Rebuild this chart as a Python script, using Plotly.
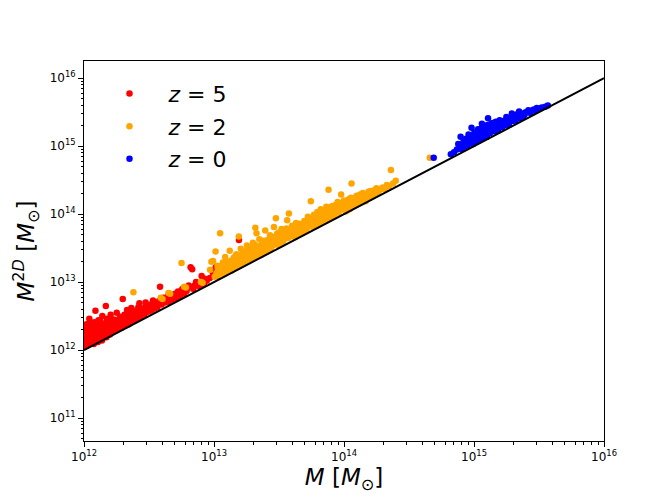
import plotly.graph_objects as go

# log10 masses: (log10 M, log10 M^2D)
red_points = [
    (12.003, 12.06), (12.006, 12.19), (12.011, 12.29), (12.014, 12.11), (12.019, 12.38),
    (12.022, 12.24), (12.027, 12.07), (12.031, 12.33), (12.034, 12.16), (12.041, 12.46),
    (12.044, 12.27), (12.049, 12.10), (12.053, 12.21), (12.058, 12.35), (12.062, 12.14),
    (12.066, 12.31), (12.071, 12.19), (12.075, 12.09), (12.079, 12.41), (12.084, 12.26),
    (12.088, 12.58), (12.091, 12.15), (12.096, 12.33), (12.102, 12.22), (12.107, 12.12),
    (12.111, 12.44), (12.116, 12.28), (12.121, 12.17), (12.127, 12.37), (12.133, 12.24),
    (12.138, 12.14), (12.141, 12.50), (12.146, 12.31), (12.152, 12.20), (12.157, 12.39),
    (12.163, 12.27), (12.168, 12.65), (12.172, 12.19), (12.176, 12.46), (12.183, 12.33),
    (12.188, 12.24), (12.194, 12.41), (12.199, 12.23), (12.205, 12.52), (12.211, 12.29),
    (12.216, 12.36), (12.222, 12.27), (12.229, 12.45), (12.233, 12.31), (12.241, 12.39),
    (12.246, 12.29), (12.252, 12.55), (12.258, 12.34), (12.263, 12.42), (12.269, 12.32),
    (12.276, 12.49), (12.281, 12.37), (12.288, 12.33), (12.293, 12.44), (12.298, 12.75),
    (12.305, 12.38), (12.311, 12.52), (12.318, 12.36), (12.324, 12.45), (12.331, 12.59),
    (12.337, 12.41), (12.344, 12.38), (12.351, 12.50), (12.357, 12.43), (12.364, 12.62),
    (12.372, 12.42), (12.379, 12.48), (12.386, 12.55), (12.393, 12.44), (12.401, 12.51),
    (12.409, 12.47), (12.418, 12.63), (12.426, 12.69), (12.433, 12.49), (12.441, 12.55),
    (12.449, 12.52), (12.458, 12.61), (12.466, 12.53), (12.474, 12.70), (12.483, 12.56),
    (12.492, 12.62), (12.501, 12.57), (12.511, 12.66), (12.520, 12.59), (12.531, 12.73),
    (12.542, 12.61), (12.553, 12.68), (12.564, 12.63), (12.576, 12.72), (12.585, 12.93),
    (12.597, 12.67), (12.609, 12.77), (12.622, 12.70), (12.636, 12.75), (12.649, 12.71),
    (12.663, 12.82), (12.678, 12.74), (12.692, 12.79), (12.707, 12.76), (12.723, 12.86),
    (12.739, 12.79), (12.756, 12.90), (12.772, 12.83), (12.789, 12.87), (12.806, 12.95),
    (12.820, 13.22), (12.832, 13.19), (12.841, 12.90), (12.862, 13.00), (12.883, 12.94),
    (12.905, 13.09), (12.921, 12.97), (12.944, 13.02), (12.968, 13.06), (12.991, 13.14),
    (13.008, 13.18), (13.021, 13.09), (13.013, 13.22), (13.079, 13.18), (13.192, 13.62),
    (13.248, 13.30),
    (12.016, 12.33), (12.037, 12.27), (12.048, 12.40), (12.069, 12.25), (12.082, 12.36),
    (12.099, 12.29), (12.113, 12.35), (12.124, 12.43), (12.136, 12.30), (12.149, 12.37),
    (12.161, 12.34), (12.179, 12.40), (12.191, 12.32), (12.203, 12.37), (12.218, 12.44),
    (12.236, 12.36), (12.249, 12.44), (12.266, 12.38), (12.284, 12.45), (12.302, 12.46),
    (12.321, 12.49), (12.339, 12.47), (12.354, 12.56), (12.368, 12.50), (12.383, 12.53),
    (12.397, 12.58), (12.414, 12.55), (12.437, 12.60), (12.455, 12.58), (12.471, 12.63),
    (12.489, 12.66), (12.507, 12.64), (12.526, 12.69), (12.548, 12.70), (12.571, 12.69),
    (12.591, 12.74), (12.617, 12.76), (12.644, 12.79), (12.671, 12.80), (12.701, 12.83),
    (12.733, 12.83), (12.766, 12.88), (12.797, 12.91), (12.850, 12.95), (12.930, 13.05),
]

orange_points = [
    (12.38, 12.85), (12.59, 12.77), (12.604, 12.75), (12.65, 12.84), (12.663, 12.83),
    (12.75, 13.28), (12.77, 12.93), (12.784, 12.92), (12.90, 13.00), (12.912, 12.99),
    (12.97, 13.18), (12.98, 13.30), (12.993, 13.31), (13.006, 13.08), (13.012, 13.45),
    (13.018, 13.13), (13.027, 13.24), (13.036, 13.10), (13.047, 13.72), (13.052, 13.19),
    (13.061, 13.14), (13.068, 13.29), (13.077, 13.12), (13.086, 13.37), (13.094, 13.20),
    (13.103, 13.15), (13.112, 13.27), (13.121, 13.46), (13.128, 13.23), (13.136, 13.17),
    (13.144, 13.33), (13.152, 13.36), (13.158, 13.25), (13.167, 13.21), (13.173, 13.41),
    (13.182, 13.28), (13.191, 13.67), (13.197, 13.26), (13.206, 13.49), (13.213, 13.33),
    (13.221, 13.27), (13.229, 13.43), (13.237, 13.36), (13.244, 13.30), (13.253, 13.54),
    (13.261, 13.38), (13.268, 13.32), (13.276, 13.47), (13.283, 13.41), (13.291, 13.35),
    (13.299, 13.58), (13.306, 13.44), (13.318, 13.80), (13.322, 13.37), (13.327, 13.72),
    (13.334, 13.52), (13.341, 13.41), (13.349, 13.63), (13.356, 13.45), (13.363, 13.40),
    (13.371, 13.57), (13.378, 13.48), (13.386, 13.44), (13.394, 13.76), (13.401, 13.51),
    (13.408, 13.46), (13.415, 13.62), (13.423, 13.53), (13.431, 13.69), (13.438, 13.49),
    (13.445, 13.59), (13.452, 13.54), (13.461, 13.81), (13.476, 13.94), (13.471, 13.57),
    (13.482, 13.66), (13.489, 13.55), (13.497, 13.73), (13.504, 13.61), (13.512, 13.58),
    (13.519, 13.78), (13.527, 13.64), (13.534, 13.60), (13.542, 13.71), (13.551, 13.66),
    (13.563, 13.91), (13.576, 14.01), (13.571, 13.65), (13.584, 13.77), (13.593, 13.68),
    (13.601, 13.83), (13.611, 13.70), (13.622, 13.66), (13.631, 13.87), (13.642, 13.74),
    (13.651, 13.71), (13.662, 13.82), (13.673, 13.77), (13.684, 13.73), (13.695, 13.90),
    (13.704, 13.79), (13.713, 13.76), (13.722, 13.96), (13.731, 13.83), (13.745, 14.19),
    (13.752, 13.86), (13.761, 13.81), (13.769, 13.99), (13.778, 13.88), (13.786, 13.84),
    (13.795, 14.03), (13.803, 13.91), (13.812, 13.87), (13.821, 14.07), (13.829, 13.94),
    (13.838, 13.89), (13.847, 14.00), (13.856, 13.96), (13.864, 14.11), (13.873, 13.93),
    (13.881, 14.36), (13.889, 14.03), (13.897, 13.95), (13.906, 14.08), (13.915, 14.01),
    (13.924, 13.97), (13.933, 14.13), (13.942, 14.05), (13.951, 14.18), (13.959, 14.02),
    (13.968, 14.09), (13.978, 14.29), (13.986, 14.07), (13.995, 14.15), (14.004, 14.08),
    (14.013, 14.04), (14.022, 14.19), (14.031, 14.11), (14.042, 14.07), (14.058, 14.45),
    (14.061, 14.17), (14.070, 14.12), (14.081, 14.23), (14.092, 14.15), (14.103, 14.26),
    (14.112, 14.17), (14.123, 14.29), (14.134, 14.20), (14.145, 14.31), (14.156, 14.22),
    (14.166, 14.19), (14.177, 14.28), (14.188, 14.33), (14.199, 14.24), (14.211, 14.30),
    (14.222, 14.27), (14.234, 14.35), (14.249, 14.38), (14.262, 14.31), (14.276, 14.36),
    (14.297, 14.39), (14.318, 14.37), (14.346, 14.41), (14.361, 14.65), (14.377, 14.45),
    (14.398, 14.49), (14.66, 14.83),
    (13.030, 13.20), (13.058, 13.24), (13.082, 13.27), (13.107, 13.30), (13.131, 13.31),
    (13.149, 13.28), (13.163, 13.38), (13.187, 13.35), (13.209, 13.40), (13.226, 13.36),
    (13.241, 13.45), (13.258, 13.46), (13.272, 13.42), (13.288, 13.50), (13.303, 13.48),
    (13.314, 13.55), (13.338, 13.47), (13.353, 13.53), (13.367, 13.51), (13.382, 13.61),
    (13.397, 13.56), (13.412, 13.58), (13.427, 13.64), (13.442, 13.62), (13.457, 13.66),
    (13.467, 13.63), (13.485, 13.71), (13.501, 13.68), (13.516, 13.69), (13.531, 13.75),
    (13.546, 13.73), (13.558, 13.79), (13.581, 13.74), (13.597, 13.80), (13.614, 13.77),
    (13.628, 13.84), (13.646, 13.80), (13.657, 13.86), (13.677, 13.84), (13.691, 13.82),
    (13.708, 13.88), (13.726, 13.89), (13.741, 13.92), (13.757, 13.94), (13.773, 13.93),
    (13.791, 13.97), (13.808, 13.99), (13.825, 14.01), (13.842, 14.05), (13.859, 14.03),
    (13.877, 14.07), (13.893, 14.10), (13.911, 14.12), (13.928, 14.08), (13.946, 14.14),
    (13.963, 14.16), (13.982, 14.13), (13.999, 14.20), (14.017, 14.15), (14.036, 14.22),
    (14.053, 14.24), (14.075, 14.20), (14.097, 14.27), (14.118, 14.24), (14.139, 14.27),
    (14.161, 14.28), (14.183, 14.26), (14.206, 14.34), (14.228, 14.31), (14.256, 14.34),
    (14.287, 14.37), (14.330, 14.43),
]

blue_points = [
    (14.69, 14.83), (14.822, 14.88), (14.846, 14.91), (14.868, 14.95), (14.879, 15.03),
    (14.897, 15.14), (14.904, 14.96), (14.918, 15.06), (14.927, 14.99), (14.939, 15.11),
    (14.951, 15.01), (14.958, 15.17), (14.967, 15.05), (14.981, 15.27), (14.986, 15.09),
    (14.993, 15.03), (15.004, 15.21), (15.012, 15.12), (15.019, 15.07), (15.031, 15.25),
    (15.038, 15.16), (15.047, 15.10), (15.061, 15.33), (15.066, 15.21), (15.072, 15.12),
    (15.083, 15.29), (15.091, 15.17), (15.099, 15.14), (15.108, 15.41), (15.114, 15.25),
    (15.122, 15.19), (15.131, 15.33), (15.139, 15.22), (15.148, 15.28), (15.157, 15.22),
    (15.168, 15.36), (15.177, 15.27), (15.186, 15.24), (15.197, 15.38), (15.208, 15.31),
    (15.217, 15.28), (15.226, 15.37), (15.238, 15.31), (15.249, 15.43), (15.259, 15.33),
    (15.268, 15.31), (15.279, 15.41), (15.291, 15.48), (15.298, 15.37), (15.309, 15.45),
    (15.321, 15.38), (15.332, 15.47), (15.347, 15.51), (15.353, 15.41), (15.368, 15.48),
    (15.381, 15.44), (15.397, 15.50), (15.418, 15.53), (15.432, 15.49), (15.451, 15.53),
    (15.468, 15.52), (15.483, 15.56), (15.502, 15.55), (15.521, 15.57), (15.547, 15.58),
    (15.568, 15.60),
    (14.912, 15.01), (14.934, 15.05), (14.962, 15.10), (14.976, 15.16), (14.998, 15.14),
    (15.016, 15.18), (15.026, 15.20), (15.043, 15.23), (15.056, 15.26), (15.078, 15.23),
    (15.096, 15.27), (15.104, 15.31), (15.126, 15.29), (15.144, 15.34), (15.162, 15.31),
    (15.181, 15.33), (15.202, 15.35), (15.222, 15.34), (15.244, 15.38), (15.263, 15.40),
    (15.285, 15.38), (15.304, 15.42), (15.327, 15.43), (15.361, 15.45), (15.390, 15.47),
    (15.425, 15.50), (15.460, 15.54),
]

# one-to-one line
line_m = [1e12, 1e16]

tick_vals = [1e11, 1e12, 1e13, 1e14, 1e15, 1e16]
tick_text = ["10<sup>11</sup>", "10<sup>12</sup>", "10<sup>13</sup>",
             "10<sup>14</sup>", "10<sup>15</sup>", "10<sup>16</sup>"]

series = [
    ("<i>z</i> = 5", "red", red_points),
    ("<i>z</i> = 2", "orange", orange_points),
    ("<i>z</i> = 0", "blue", blue_points),
]

fig = go.Figure()
for i, (name, color, pts) in enumerate(series):
    xs = [10 ** p[0] for p in pts]
    ys = [10 ** p[1] for p in pts]
    fig.add_trace(go.Scatter(
        x=xs, y=ys, mode="markers", name=name, legendgroup=str(i),
        marker=dict(size=6.5, color=color, line=dict(width=0)),
    ))

fig.add_trace(go.Scatter(
    x=line_m, y=line_m, mode="lines", showlegend=False,
    line=dict(color="black", width=2),
))

axis_common = dict(
    type="log", showgrid=False, zeroline=False,
    showline=True, linecolor="black", linewidth=1, mirror=True,
    ticks="outside", ticklen=5, tickwidth=1, tickcolor="black",
    tickvals=tick_vals, ticktext=tick_text,
    tickfont=dict(family="DejaVu Sans", size=12, color="black"),
    minor=dict(ticks="outside", ticklen=2.5, tickwidth=0.8,
               tickcolor="black", dtick="D1", showgrid=False),
)

# page body adds 8px offset, so margins are shifted accordingly
fig.update_layout(
    width=672, height=504,
    margin=dict(l=76, r=76, t=53, b=71),
    plot_bgcolor="white", paper_bgcolor="white",
    font=dict(family="DejaVu Sans", color="black"),
    xaxis=dict(axis_common, range=[12, 16],
               title=dict(text="<i>M</i> [<i>M</i><sub>⊙</sub>]",
                          font=dict(size=23), standoff=4)),
    yaxis=dict(axis_common, range=[10.662, 16.253],
               title=dict(text="<i>M</i><sup>2<i>D</i></sup> [<i>M</i><sub>⊙</sub>]",
                          font=dict(size=23), standoff=8)),
    legend=dict(x=0.0125, y=0.969, xanchor="left", yanchor="top",
                font=dict(size=22), traceorder="grouped", tracegroupgap=1,
                itemwidth=68, bgcolor="rgba(0,0,0,0)"),
)

fig.write_html("out.html")
